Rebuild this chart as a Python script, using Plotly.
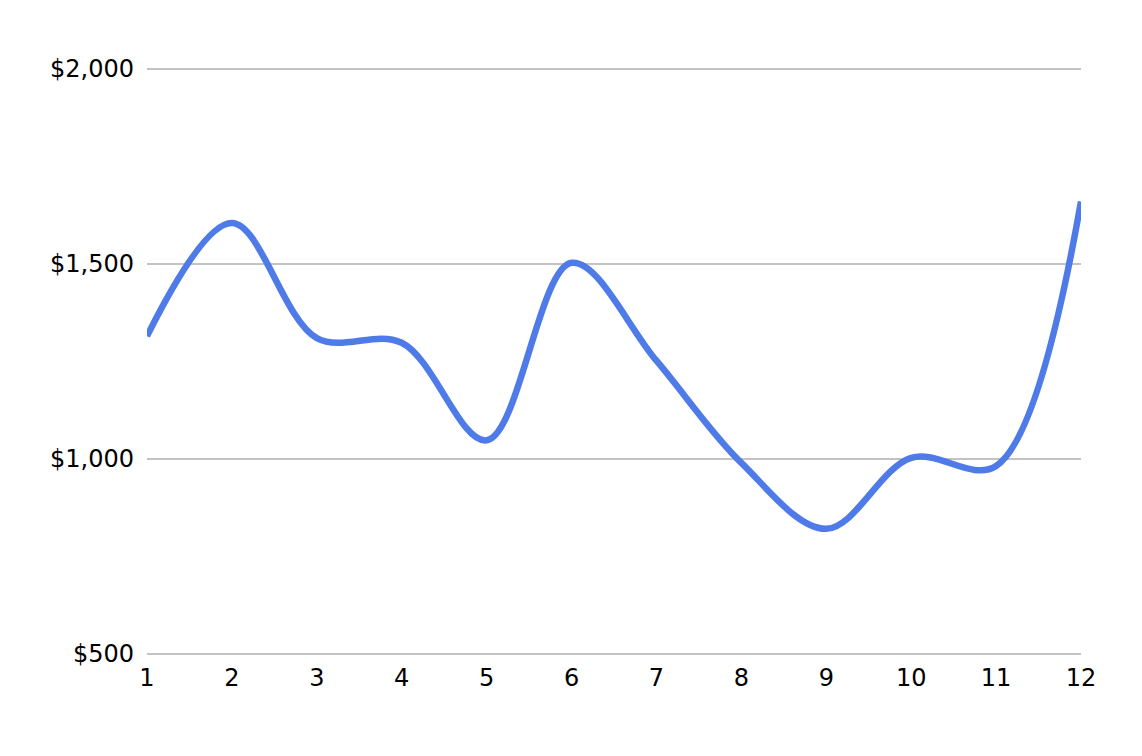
import plotly.graph_objects as go

months = [1, 2, 3, 4, 5, 6, 7, 8, 9, 10, 11, 12]
values = [1315, 1605, 1310, 1298, 1048, 1503, 1252, 990, 821, 1003, 982, 1660]
y_ticks = [500, 1000, 1500, 2000]
y_labels = ["$500", "$1,000", "$1,500", "$2,000"]

fig = go.Figure()
fig.add_trace(go.Scatter(
    x=months, y=values, mode="lines",
    line=dict(color="#4f7be8", width=6.5, shape="spline", smoothing=1),
))
fig.update_layout(
    width=1142, height=756,
    margin=dict(l=147, r=61, t=64, b=97),
    paper_bgcolor="white", plot_bgcolor="white",
    showlegend=False,
    font=dict(family="DejaVu Sans", size=24, color="black"),
    xaxis=dict(range=[1, 12], tickvals=months, showgrid=False, zeroline=False,
               showline=False, ticks="", automargin=False, ticklabelstandoff=2,
               tickfont=dict(size=24)),
    yaxis=dict(range=[487.18, 2012.82], tickvals=y_ticks, ticktext=y_labels,
               showgrid=True, gridcolor="#c3c3c3", gridwidth=1.5, zeroline=False,
               showline=False, ticks="", ticklabelstandoff=12, automargin=False,
               tickfont=dict(size=24)),
)
fig.write_html("out.html", config={"displayModeBar": False},
               post_script="document.body.style.margin='0';")
